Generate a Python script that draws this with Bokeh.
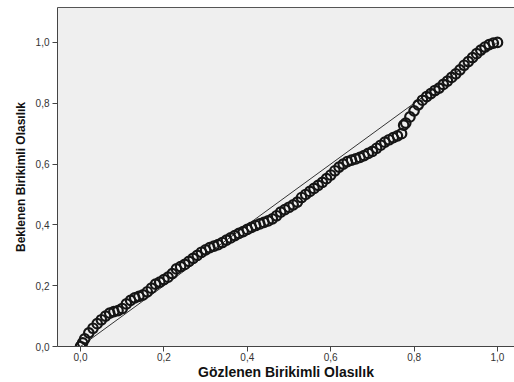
from bokeh.plotting import figure
from bokeh.models import LinearAxis, Range1d, FixedTicker
from bokeh.embed import file_html
from bokeh.resources import INLINE

# Observed cumulative probability (x) and expected cumulative probability (y)
observed = [0.000, 0.005, 0.010, 0.020, 0.030, 0.040, 0.050, 0.060, 0.070, 0.080,
            0.090, 0.100, 0.110, 0.120, 0.130, 0.140, 0.150, 0.160, 0.170, 0.180,
            0.190, 0.200, 0.210, 0.220, 0.230, 0.240, 0.250, 0.260, 0.270, 0.280,
            0.290, 0.300, 0.310, 0.320, 0.330, 0.340, 0.350, 0.360, 0.370, 0.380,
            0.390, 0.400, 0.410, 0.420, 0.430, 0.440, 0.450, 0.460, 0.470, 0.480,
            0.490, 0.500, 0.510, 0.520, 0.530, 0.540, 0.550, 0.560, 0.570, 0.580,
            0.590, 0.600, 0.610, 0.620, 0.630, 0.640, 0.650, 0.660, 0.670, 0.680,
            0.690, 0.700, 0.710, 0.720, 0.730, 0.740, 0.750, 0.760, 0.770, 0.775,
            0.780, 0.790, 0.800, 0.810, 0.820, 0.830, 0.840, 0.850, 0.860, 0.870,
            0.880, 0.890, 0.900, 0.910, 0.920, 0.930, 0.940, 0.950, 0.960, 0.970,
            0.980, 0.990, 1.000]
expected = [0.000, 0.012, 0.025, 0.045, 0.060, 0.075, 0.088, 0.100, 0.110, 0.115,
            0.118, 0.125, 0.140, 0.152, 0.160, 0.165, 0.170, 0.180, 0.192, 0.205,
            0.212, 0.220, 0.228, 0.240, 0.255, 0.263, 0.270, 0.280, 0.290, 0.300,
            0.310, 0.318, 0.325, 0.330, 0.335, 0.342, 0.350, 0.357, 0.365, 0.372,
            0.378, 0.385, 0.392, 0.398, 0.403, 0.408, 0.413, 0.420, 0.430, 0.442,
            0.450, 0.458, 0.466, 0.475, 0.490, 0.500, 0.510, 0.520, 0.530, 0.540,
            0.552, 0.564, 0.578, 0.590, 0.600, 0.608, 0.613, 0.617, 0.622, 0.628,
            0.635, 0.642, 0.652, 0.662, 0.672, 0.680, 0.687, 0.693, 0.700, 0.728,
            0.735, 0.755, 0.775, 0.795, 0.810, 0.822, 0.832, 0.842, 0.850, 0.862,
            0.873, 0.885, 0.897, 0.910, 0.925, 0.937, 0.950, 0.963, 0.975, 0.985,
            0.993, 0.998, 1.000]

ref_line = [0.0, 1.0]
tick_values = [0.0, 0.2, 0.4, 0.6, 0.8, 1.0]
tick_labels = ["0,0", "0,2", "0,4", "0,6", "0,8", "1,0"]
x_title = "Gözlenen Birikimli Olasılık"
y_title = "Beklenen Birikimli Olasılık"

FONT = "Liberation Sans"

p = figure(width=514, height=382, output_backend="svg", toolbar_location=None,
           x_range=Range1d(-0.0552, 1.0408), y_range=Range1d(0.0, 1.115),
           min_border_left=57, min_border_right=0, min_border_top=7, min_border_bottom=35)
p.background_fill_color = "#efefef"
p.border_fill_color = "white"
p.outline_line_color = None
p.xgrid.visible = False
p.ygrid.visible = False

# reference diagonal
p.line(ref_line, ref_line, line_color="#333333", line_width=1)

# points
p.scatter(observed, expected, marker="circle", size=9.5, fill_alpha=0,
          line_color="#151515", line_width=2.2)

label_map = dict(zip(tick_values, tick_labels))
for ax in (p.xaxis[0], p.yaxis[0]):
    ax.ticker = FixedTicker(ticks=tick_values)
    ax.major_label_overrides = label_map
    ax.minor_tick_line_color = None
    ax.axis_line_color = "#444444"
    ax.major_tick_line_color = "#444444"
    ax.major_tick_in = 0
    ax.major_tick_out = 5
    ax.major_label_text_font = FONT
    ax.major_label_text_font_size = "10px"
    ax.major_label_text_color = "#333333"
    ax.major_label_standoff = 1
    ax.axis_label_text_font = FONT
    ax.axis_label_text_font_style = "bold"
    ax.axis_label_text_color = "#111111"
    ax.axis_label_standoff = 0

p.xaxis.axis_label = x_title
p.xaxis.axis_label_text_font_size = "14px"
p.yaxis.axis_label = y_title
p.yaxis.axis_label_text_font_size = "12px"
p.yaxis.axis_label_standoff = 5
p.yaxis.major_label_standoff = 3

# top border line
top = LinearAxis(axis_line_color="#555555", major_tick_line_color=None,
                 minor_tick_line_color=None, major_label_text_font_size="0px",
                 major_tick_out=0, major_label_standoff=0, axis_label_standoff=0,
                 ticker=FixedTicker(ticks=[]))
p.add_layout(top, "above")

open("out.html", "w").write(file_html(p, INLINE))
